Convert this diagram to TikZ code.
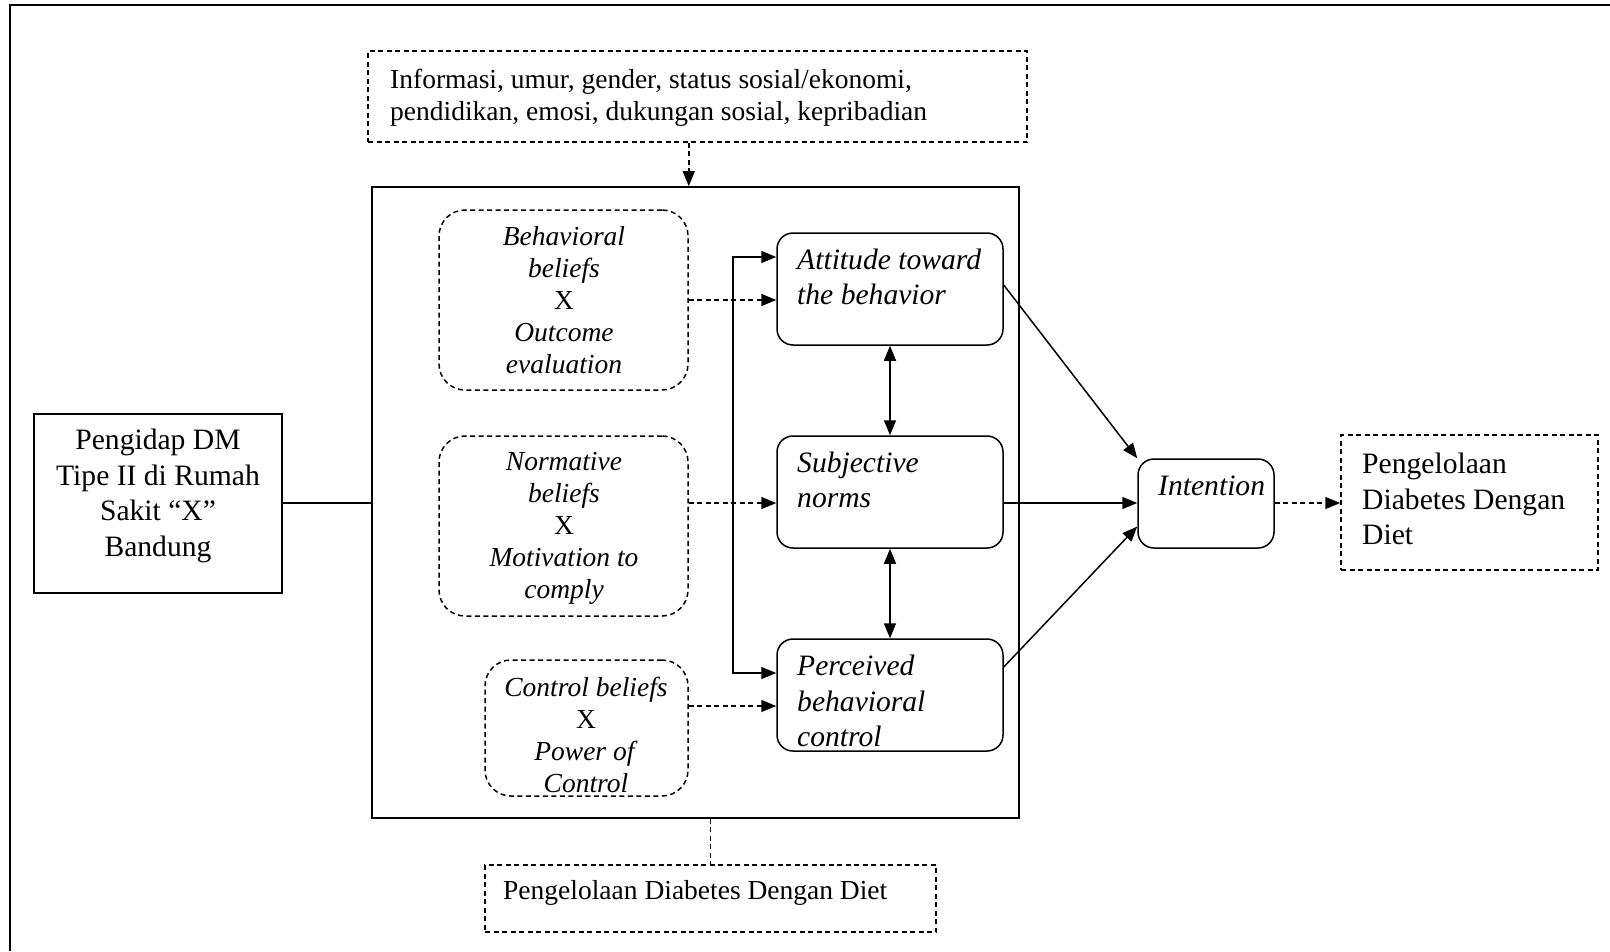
\documentclass[tikz,border=0pt]{standalone}
\usepackage{fontspec}
\setmainfont{Liberation Serif}
\usetikzlibrary{arrows.meta,calc}
\begin{document}
\begin{tikzpicture}[x=1pt,y=-1pt,
 sm/.style={font=\fontsize{27.5}{32}\selectfont},
 bg/.style={font=\fontsize{29.6}{35.5}\selectfont},
 plainbox/.style={draw, line width=1.5pt, inner sep=0},
 solidbox/.style={plainbox, rounded corners=16pt},
 dbox/.style={plainbox, dash pattern=on 5pt off 3.5pt},
 drbox/.style={dbox, rounded corners=26pt},
 txt/.style={inner sep=0, align=center},
 ltxt/.style={inner sep=0, align=left, anchor=west},
 ln/.style={line width=1.5pt},
 arr/.style={ln, -{Triangle[length=15pt,width=12pt]}},
 darr/.style={arr, dash pattern=on 5pt off 3.5pt},
 dln/.style={ln, dash pattern=on 5pt off 3.5pt},
 dbl/.style={ln, {Triangle[length=15pt,width=12pt]}-{Triangle[length=15pt,width=12pt]}},
]
\useasboundingbox (0,0) rectangle (1610,951);
% outer frame (top and left only)
\coordinate (fl) at (10,951);
\coordinate (fc) at (10,5);
\coordinate (fr) at (1610,5);
\draw[line width=2pt] (fl) -- (fc) -- (fr);
\coordinate (row) at (0,503);

% boxes
\node[dbox, minimum width=659pt, minimum height=91pt] (top) at (697.5,96.5) {};
\node[plainbox, line width=1.8pt, minimum width=647pt, minimum height=631pt] (big) at (695.5,502.5) {};
\node[drbox, minimum width=249pt, minimum height=180pt] (beh) at (563.5,300) {};
\node[drbox, minimum width=249pt, minimum height=180pt] (norm) at (563.5,526) {};
\node[drbox, minimum width=203pt, minimum height=136pt] (ctrl) at (586.5,728) {};
\node[solidbox, minimum width=226pt, minimum height=112pt] (att) at (890,289) {};
\node[solidbox, minimum width=226pt, minimum height=112pt] (subj) at (890,492) {};
\node[solidbox, minimum width=226pt, minimum height=112pt] (perc) at (890,695) {};
\node[solidbox, minimum width=136pt, minimum height=89pt] (int) at (1206,503.5) {};
\node[dbox, minimum width=257pt, minimum height=135pt] (out) at (1469.5,502.5) {};
\node[plainbox, minimum width=248pt, minimum height=179pt] (left) at (158,503.5) {};
\node[dbox, minimum width=451pt, minimum height=67pt] (bot) at (710.5,898.5) {};

% texts
\node[ltxt, sm] (ttop) at (390,98) {Informasi, umur, gender, status sosial/ekonomi,\\pendidikan, emosi, dukungan sosial, kepribadian};
\node[txt, bg] (tleft) at (158,496) {Pengidap DM\\Tipe II di Rumah\\Sakit “X”\\Bandung};
\node[txt, sm] (tbeh) at (564,300) {\textit{Behavioral}\\\textit{beliefs}\\X\\\textit{Outcome}\\\textit{evaluation}};
\node[txt, sm] (tnorm) at (564,528) {\textit{Normative}\\\textit{beliefs}\\X\\\textit{Motivation to}\\\textit{comply}};
\node[txt, sm] (tctrl) at (586,735) {\textit{Control beliefs}\\X\\\textit{Power of}\\\textit{Control}};
\node[ltxt, bg] (tatt) at (797,277) {\textit{Attitude toward}\\\textit{the behavior}};
\node[ltxt, bg] (tsubj) at (797,480) {\textit{Subjective}\\\textit{norms}};
\node[ltxt, bg] (tperc) at (797,701) {\textit{Perceived}\\\textit{behavioral}\\\textit{control}};
\node[ltxt, bg] (tint) at (1158,486) {\textit{Intention}};
\node[ltxt, bg] (tout) at (1362,499) {Pengelolaan\\Diabetes Dengan\\Diet};
\node[ltxt, sm] (tbot) at (503,893) {Pengelolaan Diabetes Dengan Diet};

% connectors
\draw[darr] (top.south -| beh.east) -- (big.north -| beh.east);
\draw[dln] (big.south -| bot.north) -- (bot.north);
\draw[ln] (left.east |- row) -- (big.west |- row);
\draw[darr] (beh.east) -- (beh.east -| att.west);
\draw[darr] (norm.east |- row) -- (subj.west |- row);
\coordinate (cy) at (0,706);
\draw[darr] (ctrl.east |- cy) -- (perc.west |- cy);
\coordinate (vt) at (733,257);
\coordinate (vb) at (733,673);
\draw[arr] (vb) -- (vt) -- (vt -| att.west);
\draw[arr] (vt) -- (vb) -- (vb -| perc.west);
\draw[dbl] (att.south) -- (subj.north);
\draw[dbl] (subj.south) -- (perc.north);
\draw[arr] ($(att.east)+(0,-4)$) -- (int.north west);
\draw[arr] (subj.east |- row) -- (int.west |- row);
\draw[arr] ($(perc.east)+(0,-28)$) -- ($(int.west)+(0,23)$);
\draw[darr] (int.east |- row) -- (out.west |- row);
\end{tikzpicture}
\end{document}
